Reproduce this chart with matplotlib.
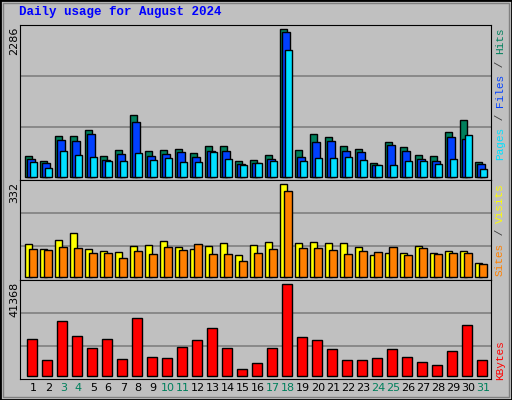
import matplotlib
matplotlib.use("Agg")
import matplotlib.pyplot as plt
from matplotlib.patches import Rectangle

days = list(range(1, 32))
hits = [320,237,630,630,722,320,413,955,397,413,428,366,475,475,243,258,335,2286,413,660,614,475,428,212,537,459,335,320,691,877,227]
files = [268,206,568,552,660,253,351,846,315,351,382,304,397,397,196,212,273,2240,304,537,552,397,382,181,490,397,273,243,614,583,196]
pages = [222,129,397,335,304,243,243,366,258,289,227,227,382,273,181,212,243,1961,243,289,289,304,258,181,181,243,243,196,273,645,119]
sites = [116,98,131,156,98,91,88,109,113,127,106,98,109,120,77,113,124,332,120,124,120,120,106,77,84,84,109,84,91,91,48]
visits = [98,95,106,102,84,84,66,91,80,106,95,116,80,80,55,84,98,307,102,102,95,80,91,88,106,77,102,80,84,84,44]
kbytes = [16460,6950,24610,17820,12380,16460,7400,25970,8300,7850,12840,16010,21440,12380,2870,5590,12380,41368,17370,16010,11930,6950,6950,7850,11930,8300,6040,4680,11020,22800,6950]
weekends = [3,4,10,11,17,18,24,25,31]
title = "Daily usage for August 2024"

BG = "#C0C0C0"
fig = plt.figure(figsize=(5.12, 4.0), dpi=100, facecolor=BG)
fig.patches.append(Rectangle((0, 0), 1, 1, transform=fig.transFigure, fill=False,
                             edgecolor="black", lw=2))
fig.patches.append(Rectangle((3/512, 3/400), 506/512, 394/400, transform=fig.transFigure,
                             fill=False, edgecolor="#808080", lw=1))

W, H = 512, 400
def ax_at(x0, y0, x1, y1):
    return fig.add_axes([x0/W, 1-y1/H, (x1-x0)/W, (y1-y0)/H])

xl = (0.667, 0.667 + 471/15)
mono = "Liberation Mono"

def style(ax, ylim, grids):
    ax.set_facecolor(BG)
    ax.set_xlim(*xl)
    ax.set_ylim(*ylim)
    for g in grids:
        ax.axhline(g, color="#808080", lw=1.2, zorder=0)
    ax.set_xticks([])
    ax.set_yticks([])
    for s in ax.spines.values():
        s.set_color("black")

kw = dict(align="edge", edgecolor="black", linewidth=1, zorder=2)

ax1 = ax_at(20, 25, 491, 180)
style(ax1, (-52, 2348), [764, 1553])
ax1.bar([d for d in days], hits, 0.5, color="#00805C", **kw)
ax1.bar([d+0.16 for d in days], files, 0.5, color="#0040FF", **kw)
ax1.bar([d+0.33 for d in days], pages, 0.5, color="#00E0FF", **kw)

ax2 = ax_at(20, 180, 491, 280)
style(ax2, (-12, 348), [109, 228])
ax2.bar([d for d in days], sites, 0.5, color="#FFFF00", **kw)
ax2.bar([d+0.29 for d in days], visits, 0.5, color="#FF8000", **kw)

ax3 = ax_at(20, 280, 491, 379)
style(ax3, (-1510, 43337), [13440, 28240])
ax3.bar([d+0.11 for d in days], kbytes, 0.67, color="#FF0000", **kw)
ax3.set_xticks([d+0.55 for d in days])
ax3.set_xticklabels([str(d) for d in days], fontsize=8, family="DejaVu Sans")
ax3.tick_params(axis="x", length=0, pad=3)
for lbl, d in zip(ax3.get_xticklabels(), days):
    lbl.set_color("#00805C" if d in weekends else "black")

fig.text(19/W, 1-12/H, title, color="#0000FF", fontsize=9, fontweight="bold",
         family=mono, va="center", ha="left")

for txt, ytop in [(str(max(hits)), 27), (str(max(sites)), 182), (str(max(kbytes)), 282)]:
    fig.text(14/W, 1-ytop/H, txt, rotation=90, fontsize=8, family="DejaVu Sans",
             ha="center", va="top")

def right_label(parts, ytop, x=500):
    total = sum(len(p) for p, _ in parts)
    cw = 6.6
    pos = 0
    for p, c in parts:
        end = pos + len(p)
        y = ytop + (total - end) * cw
        fig.text(x/W, 1-y/H, p, rotation=90, fontsize=8, family=mono, color=c,
                 ha="center", va="top")
        pos = end

right_label([("Pages", "#00E0FF"), (" / ", "#404040"), ("Files", "#0040FF"),
             (" / ", "#404040"), ("Hits", "#00805C")], 28)
right_label([("Sites", "#FF8000"), (" / ", "#404040"), ("Visits", "#FFFF00")], 183)
right_label([("KBytes", "#FF0000")], 340)

fig.savefig("out.png", dpi=100, facecolor=BG)
